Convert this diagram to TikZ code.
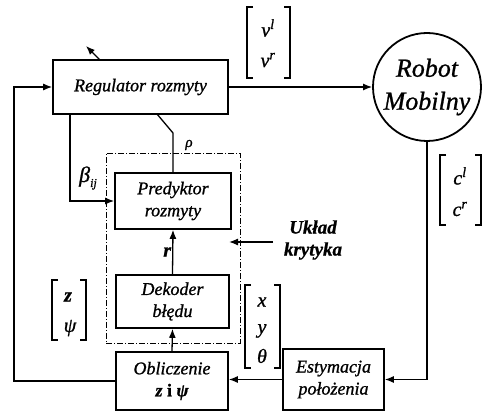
\documentclass[tikz,border=0pt]{standalone}
\usepackage{fontspec}
\setmainfont{Liberation Serif}[FakeBold=1]
\usetikzlibrary{arrows.meta}
\begin{document}
\begin{tikzpicture}[x=1pt,y=-1pt,
  box/.style={draw, line width=1.6pt, inner sep=0pt, align=center, font=\fontsize{18}{22}\selectfont\itshape},
  conn/.style={line width=1.3pt, -{Latex[length=9pt,width=7pt]}},
  wire/.style={line width=1.3pt},
  brk/.style={line width=1.2pt},
  lbl/.style={font=\fontsize{20}{22}\selectfont\itshape, inner sep=1pt},
  ent/.style={font=\fontsize{20}{22}\selectfont\itshape, inner sep=0pt},
  critic/.style={draw, line width=0.8pt, dash pattern=on 6pt off 2pt on 1pt off 2pt, minimum width=134pt, minimum height=190pt}
]
\useasboundingbox (0,0) rectangle (482,411);

% dashed critic frame
\node[critic] (kryt) at (173,248) {};

% blocks
\node[box, minimum width=175pt, minimum height=54pt] (reg) at (140.5,87) {Regulator rozmyty};
\node[draw, circle, line width=1.8pt, minimum size=108pt, inner sep=0pt, align=center,
      font=\fontsize{26}{33}\selectfont\itshape] (robot) at (427,87) {Robot\\Mobilny};
\node[box, minimum width=116pt, minimum height=56pt] (pred) at (173,201) {Predyktor\\rozmyty};
\node[box, minimum width=113pt, minimum height=53pt] (dek) at (172.5,301.5) {Dekoder\\błędu};
\node[box, minimum width=112pt, minimum height=58pt] (obl) at (172,381) {Obliczenie\\{\bfseries z \upshape i \itshape ψ}};
\node[box, minimum width=101pt, minimum height=61pt] (est) at (333.5,379.5) {Estymacja\\położenia};

% connectors
\draw[conn] (reg.east) -- (robot.west);
\draw[conn] (robot.south) |- (est.east);
\draw[conn] (est.west) -- (est.west -| obl.east);
\coordinate (fb) at (14,381);
\draw[conn] (obl.west) -- (fb) |- (reg.west);
\draw[conn] (obl.north) -- (dek.south);
\draw[conn] (dek.north) -- node[lbl, left, font=\fontsize{20}{22}\selectfont\bfseries\itshape] (rlab) {r} (pred.south);
\coordinate (b0) at (70,114);
\draw[conn] (b0) |- (pred.west);
\coordinate (rh0) at (157,114);
\coordinate (rh1) at (173,133);
\draw[wire] (rh0) -- (rh1) -- (pred.north);
\coordinate (ua) at (100,60);
\coordinate (ub) at (86,46);
\draw[conn] (ua) -- (ub);
\coordinate (kr0) at (273,242);
\coordinate (kr1) at (229,242);
\draw[conn] (kr0) -- (kr1);

% labels
\node[lbl, font=\fontsize{22}{22}\selectfont\itshape] (beta) at (88,178) {β\raisebox{-5pt}{\fontsize{12}{12}\selectfont ij}};
\node[lbl, font=\fontsize{15}{15}\selectfont\itshape] (rho) at (189,145) {ρ};
\node[align=center, font=\fontsize{19}{22}\selectfont\bfseries\itshape] (krytlab) at (313,240) {Układ\\krytyka};

% vector [v^l; v^r]
\draw[brk] (253,7) -| (247,78) -- (253,78);
\draw[brk] (284,7) -| (290,78) -- (284,78);
\node[ent] (vl) at (268,28) {ν\textsuperscript{\itshape l}};
\node[ent] (vr) at (268,60) {ν\textsuperscript{\itshape r}};

% vector [c^l; c^r]
\draw[brk] (446,155) -| (440,225) -- (446,225);
\draw[brk] (475,155) -| (481,225) -- (475,225);
\node[ent] (cl) at (460,176) {c\textsuperscript{\itshape l}};
\node[ent] (cr) at (460,209) {c\textsuperscript{\itshape r}};

% vector [z; psi]
\draw[brk] (58,280) -| (52,340) -- (58,340);
\draw[brk] (80,280) -| (86,340) -- (80,340);
\node[ent, font=\fontsize{20}{22}\selectfont\bfseries\itshape] (zz) at (68,297) {z};
\node[ent] (psi) at (70,328) {ψ};

% vector [x; y; theta]
\draw[brk] (251,285) -| (245,368) -- (251,368);
\draw[brk] (274,285) -| (280,368) -- (274,368);
\node[ent] (xx) at (262,302) {x};
\node[ent] (yy) at (262,331) {y};
\node[ent] (th) at (262,356) {θ};
\end{tikzpicture}
\end{document}
